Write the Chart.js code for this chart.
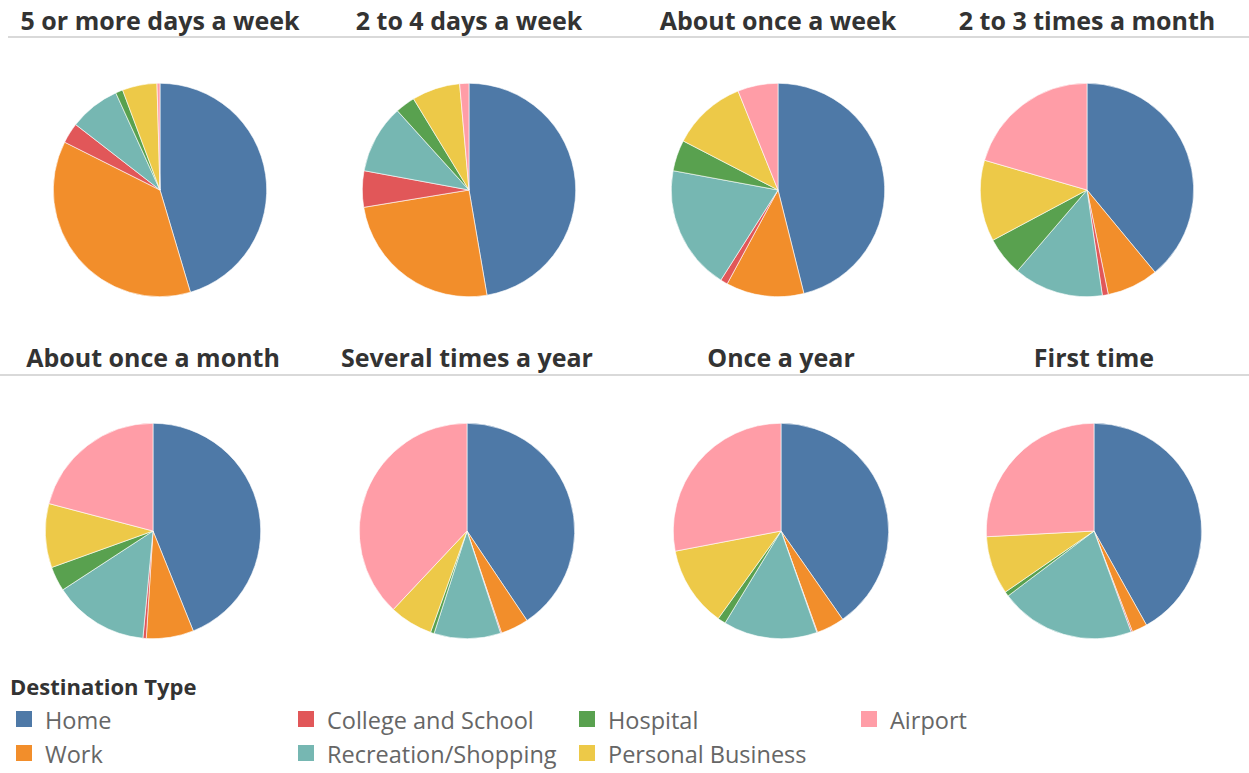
<!DOCTYPE html>
<html>
<head>
<meta charset="utf-8">
<script src="https://cdn.jsdelivr.net/npm/chart.js@4/dist/chart.umd.min.js"></script>
<style>
  html, body { margin: 0; padding: 0; background: #fff; }
  body { width: 1249px; height: 773px; position: relative; overflow: hidden; font-family: "Open Sans", "Noto Sans", sans-serif; }
  .title { position: absolute; width: 400px; text-align: center; font-weight: bold; font-size: 25px; line-height: 34px; color: #333; white-space: nowrap; }
  .rule { position: absolute; height: 2px; background: #d9d9d9; }
  .pie { position: absolute; }
  .legend-title { position: absolute; left: 10px; top: 671px; font-weight: bold; font-size: 22px; line-height: 30px; color: #333; }
  .item { position: absolute; font-size: 23.5px; color: #666; white-space: nowrap; line-height: 30px; }
  .swatch { position: absolute; width: 16px; height: 16px; }
</style>
</head>
<body>
<script>
// ---- Data ----
const frequencies = ["5 or more days a week", "2 to 4 days a week", "About once a week", "2 to 3 times a month",
                     "About once a month", "Several times a year", "Once a year", "First time"];
const destinationTypes = ["Home", "Work", "College and School", "Recreation/Shopping", "Hospital", "Personal Business", "Airport"];
// shares (%) in order of destinationTypes
const fiveOrMoreDaysWeek   = [45.4, 37.0, 3.1, 7.7, 1.1, 5.25, 0.45];
const twoToFourDaysWeek    = [47.3, 25.1, 5.5, 10.4, 3.0, 7.3, 1.4];
const aboutOnceWeek        = [46.1, 11.8, 1.1, 18.9, 4.7, 11.3, 6.1];
const twoToThreeTimesMonth = [39.0, 7.8, 0.9, 13.6, 5.9, 12.3, 20.5];
const aboutOnceMonth       = [43.9, 7.1, 0.5, 14.3, 3.7, 9.6, 20.9];
const severalTimesYear     = [40.6, 4.2, 0.15, 10.0, 0.55, 6.5, 38.0];
const onceYear             = [40.3, 4.2, 0.1, 14.1, 1.2, 12.1, 28.0];
const firstTime            = [41.9, 2.3, 0.2, 20.3, 0.7, 8.75, 25.85];
const seriesList = [fiveOrMoreDaysWeek, twoToFourDaysWeek, aboutOnceWeek, twoToThreeTimesMonth,
                    aboutOnceMonth, severalTimesYear, onceYear, firstTime];

// ---- Styles ----
const palette = ["#4E79A7", "#F28E2B", "#E15759", "#76B7B2", "#59A14F", "#EDC948", "#FF9DA7"];
const rows = [
  { titleTop: 3, ruleTop: 36, ruleLeft: 8, cy: 190, r: 106, cx: [160, 469, 778, 1087] },
  { titleTop: 340, ruleTop: 374, ruleLeft: 0, cy: 531, r: 107, cx: [153, 467, 781, 1094] }
];

rows.forEach((row) => {
  const rule = document.createElement('div');
  rule.className = 'rule';
  rule.style.left = row.ruleLeft + 'px';
  rule.style.top = row.ruleTop + 'px';
  rule.style.width = (1249 - row.ruleLeft) + 'px';
  document.body.appendChild(rule);
});

seriesList.forEach((vals, i) => {
  const ri = Math.floor(i / 4), ci = i % 4;
  const row = rows[ri];
  const cx = row.cx[ci];
  const t = document.createElement('div');
  t.className = 'title';
  t.textContent = frequencies[i];
  t.style.left = (cx - 200) + 'px';
  t.style.top = row.titleTop + 'px';
  document.body.appendChild(t);

  const size = row.r * 2 + 2;
  const wrap = document.createElement('div');
  wrap.className = 'pie';
  wrap.style.left = (cx - size / 2) + 'px';
  wrap.style.top = (row.cy - size / 2) + 'px';
  wrap.style.width = size + 'px';
  wrap.style.height = size + 'px';
  const cv = document.createElement('canvas');
  wrap.appendChild(cv);
  document.body.appendChild(wrap);

  new Chart(cv, {
    type: 'pie',
    data: {
      labels: destinationTypes,
      datasets: [{ data: vals, backgroundColor: palette, borderColor: '#ffffff', borderWidth: 0.6 }]
    },
    options: {
      responsive: true, maintainAspectRatio: false, animation: false,
      layout: { padding: 0 },
      plugins: { legend: { display: false }, tooltip: { enabled: false }, title: { display: false } }
    }
  });
});

// ---- Legend ----
const lt = document.createElement('div');
lt.className = 'legend-title';
lt.textContent = 'Destination Type';
document.body.appendChild(lt);
const legCols = [16, 298, 579, 861];
const legRows = [711, 745];
destinationTypes.forEach((name, k) => {
  const c = Math.floor(k / 2), r = k % 2;
  const sw = document.createElement('div');
  sw.className = 'swatch';
  sw.style.left = legCols[c] + 'px';
  sw.style.top = legRows[r] + 'px';
  sw.style.background = palette[k];
  document.body.appendChild(sw);
  const it = document.createElement('div');
  it.className = 'item';
  it.textContent = name;
  it.style.left = (legCols[c] + 29) + 'px';
  it.style.top = (legRows[r] - 6) + 'px';
  document.body.appendChild(it);
});
</script>
</body>
</html>
